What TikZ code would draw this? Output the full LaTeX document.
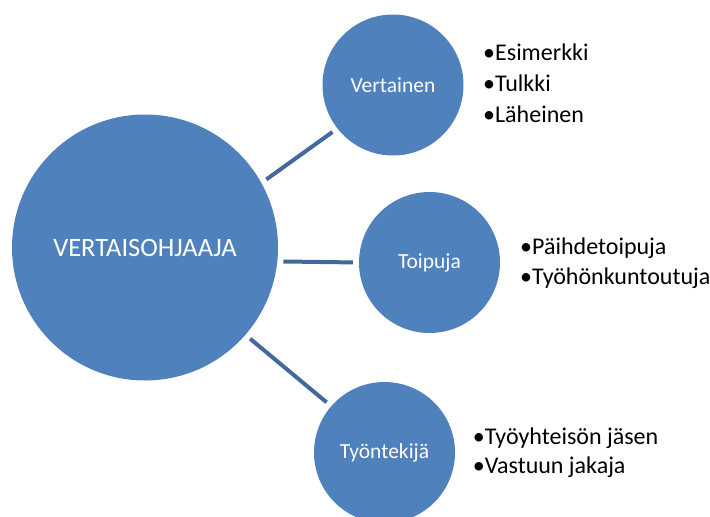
\documentclass[tikz,border=0pt]{standalone}
\usepackage{fontspec}
\setmainfont{Carlito}
\definecolor{pallosin}{HTML}{4F81BD}
\definecolor{viivasin}{HTML}{41699B}
\begin{document}
\begin{tikzpicture}[x=1pt,y=-1pt]
	\tikzset{pallo/.style={circle, fill=pallosin, text=white, inner sep=0pt, minimum size=141pt, font=\fontsize{21.5}{25}\selectfont},
	viiva/.style={draw=viivasin, line width=4pt, shorten <=6pt, shorten >=6pt},
	kohta/.style={anchor=base west, inner sep=0pt, font=\fontsize{24}{28}\selectfont}};

	\useasboundingbox (0,0) rectangle (710,517);

	\node[pallo, minimum size=266pt, font=\fontsize{26.5}{30}\selectfont] (ohjaaja) at (145,247.5) {VERTAISOHJAAJA};
	\node[pallo] (vertainen) at (393,85) {Vertainen};
	\node[pallo] (toipuja) at (429.5,262.5) {Toipuja};
	\node[pallo] (tyontekija) at (384.5,452.5) {Työntekijä};

	\draw[viiva] (ohjaaja.29) -- (vertainen.218);
	\draw[viiva] (ohjaaja.-6) -- (toipuja.west);
	\draw[viiva] (ohjaaja.-41) -- (tyontekija.139);

	% vertainen
	\node[kohta] (v1) at (483,60.7) {•Esimerkki};
	\node[kohta] (v2) at (483,91.7) {•Tulkki};
	\node[kohta] (v3) at (483,122.7) {•Läheinen};
	% toipuja
	\node[kohta] (t1) at (520,254.3) {•Päihdetoipuja};
	\node[kohta] (t2) at (520,284.3) {•Työhönkuntoutuja};
	% tyontekija
	\node[kohta] (k1) at (472.7,444.3) {•Työyhteisön jäsen};
	\node[kohta] (k2) at (472.7,473.3) {•Vastuun jakaja};
\end{tikzpicture}
\end{document}
